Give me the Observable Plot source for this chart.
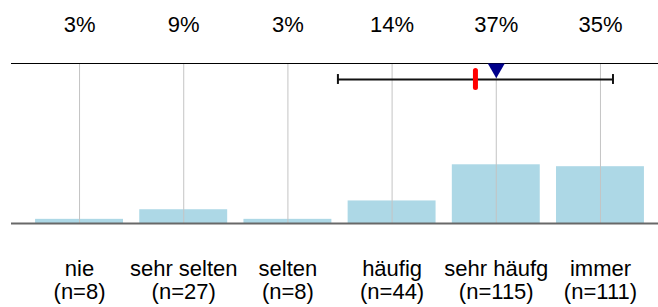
<!DOCTYPE html>
<html>
<head>
<meta charset="utf-8">
<script src="https://cdn.jsdelivr.net/npm/d3@7"></script>
<script src="https://cdn.jsdelivr.net/npm/@observablehq/plot@0.6"></script>
<style>
  html, body { margin: 0; padding: 0; background: #fff; }
  #chart svg { display: block; }
</style>
</head>
<body>
<div id="chart"></div>
<script>
// ---- data ----
const categories = ["nie", "sehr selten", "selten", "häufig", "sehr häufg", "immer"];
const counts = [8, 27, 8, 44, 115, 111];
const percents = [2.6, 8.6, 2.6, 14.1, 36.7, 35.5];
const percentLabels = ["3%", "9%", "3%", "14%", "37%", "35%"];
const positions = [1, 2, 3, 4, 5, 6];
// summary row: mean (red), median (triangle), mean ± SD (whiskers)
const meanValue = 4.80;
const medianValue = 5;
const sdLow = 3.48;
const sdHigh = 6.12;

// ---- build table ----
const rows = categories.map((c, i) => ({
  pos: positions[i],
  cat: c,
  n: counts[i],
  pct: percents[i],
  pctLabel: percentLabels[i],
  label: `${c}\n(n=${counts[i]})`
}));

const summaryRow = 90;     // y value (on 0–100 scale) where the summary whisker sits
const capHalf = 3.1;
const barHalf = 0.422;

const triangleDown = {
  draw(context, size) {
    const y = Math.sqrt(size / (3 * Math.sqrt(3)));
    context.moveTo(0, 2 * y);
    context.lineTo(-Math.sqrt(3) * y, -y);
    context.lineTo(Math.sqrt(3) * y, -y);
    context.closePath();
  }
};

const font = "'Liberation Sans', Arial, Helvetica, sans-serif";

const chart = Plot.plot({
  width: 658,
  height: 307,
  marginTop: 63,
  marginBottom: 84,
  marginLeft: 11,
  marginRight: 0,
  x: { type: "linear", domain: [0.347, 6.557], axis: null },
  y: { domain: [0, 100], axis: null },
  style: { fontFamily: font, background: "#fff", color: "#000" },
  marks: [
    Plot.rectY(rows, {
      x1: d => d.pos - barHalf,
      x2: d => d.pos + barHalf,
      y: "pct",
      fill: "#ADD8E6"
    }),
    Plot.ruleX(positions, { x: d => d, y1: 0, y2: 100, stroke: "#c4c4c4", strokeWidth: 1 }),
    Plot.ruleY([0], { stroke: "#686868", strokeWidth: 2 }),
    Plot.ruleY([100], { stroke: "#000", strokeWidth: 1 }),
    // mean ± SD whisker
    Plot.ruleY([summaryRow], { x1: sdLow, x2: sdHigh, stroke: "#111", strokeWidth: 2 }),
    Plot.ruleX([sdLow, sdHigh], {
      x: d => d,
      y1: summaryRow - capHalf,
      y2: summaryRow + capHalf,
      stroke: "#111",
      strokeWidth: 2
    }),
    // median triangle
    Plot.dot([medianValue], {
      x: d => d,
      y: () => 100,
      dy: 5,
      symbol: triangleDown,
      r: 6.3,
      fill: "#00008B",
      stroke: "none"
    }),
    // mean marker
    Plot.ruleX([meanValue], {
      x: d => d,
      y1: 95.3,
      y2: 84.7,
      stroke: "#ff0000",
      strokeWidth: 5,
      strokeLinecap: "round"
    }),
    // percentages on top
    Plot.text(rows, {
      x: "pos",
      y: () => 100,
      text: "pctLabel",
      dy: -31.5,
      lineAnchor: "bottom",
      fontSize: 22,
      fill: "#000"
    }),
    // category labels below
    Plot.text(rows, {
      x: "pos",
      y: () => 0,
      text: "label",
      dy: 36.4,
      lineAnchor: "top",
      lineHeight: 1.04,
      fontSize: 22,
      fill: "#000"
    })
  ]
});

document.getElementById("chart").appendChild(chart);
</script>
</body>
</html>
